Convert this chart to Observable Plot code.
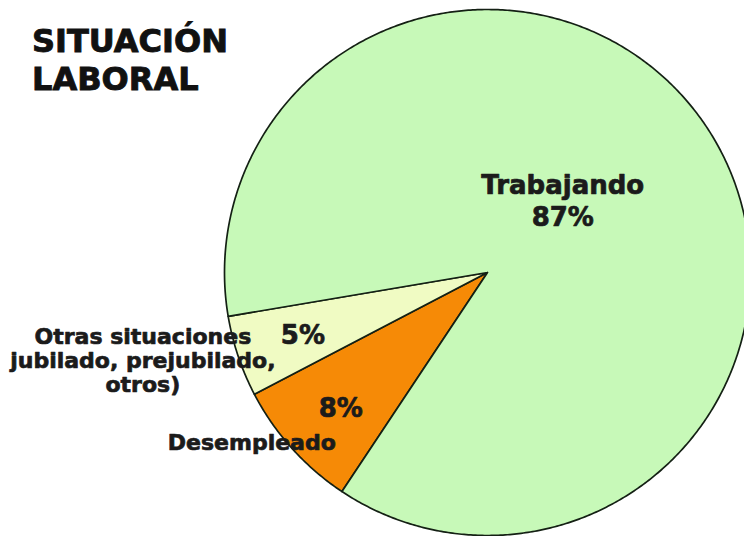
<!DOCTYPE html>
<html><head><meta charset="utf-8">
<script src="https://cdn.jsdelivr.net/npm/d3@7"></script>
<script src="https://cdn.jsdelivr.net/npm/@observablehq/plot@0.6"></script>
<style>
html,body{margin:0;padding:0;background:#fff;}
#wrap{position:relative;width:744px;height:536px;}
#title{position:absolute;left:32px;top:22px;margin:0;font:bold 32px "DejaVu Sans";line-height:38px;color:#111;-webkit-text-stroke:0.9px #111;z-index:2;}
</style></head><body>
<div id="wrap"></div>
<script>
// ---- data ----
const title = ["SITUACIÓN", "LABORAL"];
const categories = ["Desempleado", "Otras situaciones", "Trabajando"];
const shares = [8, 5, 87];
const nameLabels = ["Desempleado", "Otras situaciones\njubilado, prejubilado,\notros)", "Trabajando"];
const pctLabels = ["8%", "5%", "87%"];
const colors = ["#f68a06", "#f0fbc3", "#c7f9b8"];

// ---- layout ----
const W = 744, H = 536, cx = 487, cy = 272, R = 263;
const startDeg = 213.6;
const a0 = startDeg * Math.PI / 180;

const table = categories.map((c, i) => ({category: c, share: shares[i], name: nameLabels[i], pct: pctLabels[i]}));
const arcs = d3.pie().sort(null).value(d => d.share).startAngle(a0).endAngle(a0 + 2 * Math.PI)(table);

const outline = arcs.flatMap(a => {
  const pts = [{category: a.data.category, x: 0, y: 0}];
  const n = Math.max(2, Math.ceil((a.endAngle - a.startAngle) / (Math.PI / 360)));
  for (let k = 0; k <= n; k++) {
    const t = a.startAngle + (a.endAngle - a.startAngle) * k / n;
    pts.push({category: a.data.category, x: Math.sin(t), y: -Math.cos(t)});
  }
  pts.push({category: a.data.category, x: 0, y: 0});
  return pts;
});

const f = 0.5;
const anchors = arcs.map(a => {
  const m = (a.startAngle + a.endAngle) / 2;
  return {...a.data, x: f * Math.sin(m), y: -f * Math.cos(m)};
});
const pick = c => anchors.filter(d => d.category === c);

const font = {fontFamily: "DejaVu Sans", fontWeight: "bold", fill: "#1b1b1b", stroke: "#1b1b1b", strokeWidth: 0.7, lineAnchor: "bottom", textAnchor: "middle"};

const chart = Plot.plot({
  width: W, height: H, margin: 0,
  x: {domain: [-cx / R, (W - cx) / R], range: [0, W], axis: null},
  y: {domain: [-cy / R, (H - cy) / R], range: [0, H], axis: null},
  color: {domain: categories, range: colors},
  style: {background: "#fff", overflow: "visible"},
  marks: [
    Plot.line(outline, {x: "x", y: "y", z: "category", fill: "category", stroke: "#142014", strokeWidth: 1.7, strokeLinejoin: "round"}),
    // Trabajando
    Plot.text(pick("Trabajando"), {x: "x", y: "y", text: "name", fontSize: 26, dx: -35, dy: -7, ...font}),
    Plot.text(pick("Trabajando"), {x: "x", y: "y", text: "pct", fontSize: 26, dx: -35, dy: 25, ...font}),
    // Desempleado
    Plot.text(pick("Desempleado"), {x: "x", y: "y", text: "pct", fontSize: 26, dx: -49, dy: 57, ...font}),
    Plot.text(pick("Desempleado"), {x: "x", y: "y", text: "name", fontSize: 22, dx: -138, dy: 90, ...font}),
    // Otras situaciones
    Plot.text(pick("Otras situaciones"), {x: "x", y: "y", text: "pct", fontSize: 26, dx: -60, dy: 30, ...font}),
    Plot.text(pick("Otras situaciones"), {x: "x", y: "y", text: "name", fontSize: 22, lineHeight: 1.11, dx: -220, dy: 78, ...font})
  ]
});

const wrap = document.getElementById("wrap");
wrap.appendChild(chart);
const h = document.createElement("h1");
h.id = "title";
h.innerHTML = title.join("<br>");
wrap.appendChild(h);
</script>
</body></html>
